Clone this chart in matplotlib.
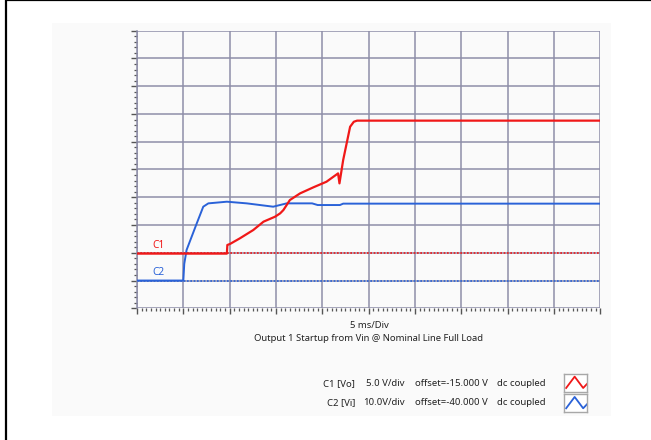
import numpy as np
import matplotlib.pyplot as plt
from matplotlib.patches import Rectangle
from matplotlib.ticker import MultipleLocator

# scope traces, in screen divisions (x: 5 ms/div, y: per-channel V/div)
c1_t = [0, 1.94, 1.95, 2.01, 2.22, 2.51, 2.73, 2.98, 3.09, 3.16, 3.30, 3.52,
        3.81, 4.09, 4.34, 4.37, 4.45, 4.60, 4.68, 4.75, 10]
c1_v = [1.97, 1.97, 2.28, 2.32, 2.52, 2.82, 3.12, 3.30, 3.42, 3.54, 3.90, 4.14,
        4.36, 4.56, 4.86, 4.50, 5.34, 6.54, 6.72, 6.76, 6.76]

c2_t = [0, 1.00, 1.02, 1.07, 1.29, 1.43, 1.54, 1.94, 2.37, 2.94, 3.23, 3.78,
        3.90, 4.38, 4.45, 10]
c2_v = [1.0, 1.0, 1.6, 2.10, 3.06, 3.66, 3.78, 3.84, 3.78, 3.66, 3.78, 3.78,
        3.72, 3.72, 3.77, 3.77]

c1_ground = 2.0
c2_ground = 1.0

channels = ["C1 [Vo]", "C2 [Vi]"]
scales = ["5.0 V/div", "10.0V/div"]
offsets = ["offset=-15.000 V", "offset=-40.000 V"]
coupling = ["dc coupled", "dc coupled"]

RED = "#f01818"
BLUE = "#2a62d8"
GRID = "#8e8ea8"
W, H = 651, 440

plt.rcParams["font.family"] = ["Noto Sans", "DejaVu Sans"]

fig = plt.figure(figsize=(W / 100, H / 100), dpi=100)


def fx(px):
    return px / W


def fy(py):
    return 1 - py / H


# outer frame and grey panel (kept behind the axes)
fig.patches.append(Rectangle((fx(6), fy(460)), fx(660), 460 / H, transform=fig.transFigure,
                             fill=False, edgecolor="black", linewidth=1.6, zorder=-2))
fig.patches.append(Rectangle((fx(52), fy(415.5)), fx(611 - 52), (415.5 - 22.7) / H,
                             transform=fig.transFigure, facecolor="#fafafa",
                             edgecolor="none", zorder=-2))

ax = fig.add_axes([fx(137), fy(308.3), fx(463.3), 277.6 / H])
ax.set_facecolor("#fafafa")
ax.set_xlim(0, 10)
ax.set_ylim(0, 10)
ax.xaxis.set_major_locator(MultipleLocator(1))
ax.xaxis.set_minor_locator(MultipleLocator(0.1))
ax.yaxis.set_major_locator(MultipleLocator(1))
ax.yaxis.set_minor_locator(MultipleLocator(0.2))
ax.tick_params(which="both", direction="out", colors="#555555", labelleft=False,
               labelbottom=False, pad=1)
ax.tick_params(which="major", length=4, width=1)
ax.tick_params(which="minor", length=2.5, width=0.9)
ax.grid(True, which="major", color=GRID, linewidth=1.1)
ax.get_xgridlines()[-1].set_visible(False)
for side in ["right", "top", "bottom"]:
    ax.spines[side].set_visible(False)
ax.spines["left"].set_color(GRID)
ax.spines["left"].set_linewidth(1.1)

# ground reference markers
ax.axhline(c1_ground, color=RED, linestyle=(0, (1, 1)), linewidth=1.2, zorder=2)
ax.axhline(c2_ground, color=BLUE, linestyle=(0, (1, 1)), linewidth=1.2, zorder=2)

ax.plot(c2_t, c2_v, color=BLUE, linewidth=1.4, zorder=3)
ax.plot(c1_t, c1_v, color=RED, linewidth=1.6, zorder=4)

ax.text(0.34, c1_ground + 0.08, "C1", color=RED, fontsize=7.3, va="bottom", ha="left")
ax.text(0.34, c2_ground + 0.08, "C2", color=BLUE, fontsize=7.3, va="bottom", ha="left")

fig.text(fx(369), fy(325), "5 ms/Div", fontsize=6.8, ha="center", va="center", color="#222222")
fig.text(fx(368), fy(338.5), "Output 1 Startup from Vin @ Nominal Line Full Load",
         fontsize=6.8, ha="center", va="center", color="#222222")

rows_y = [383.3, 402.7]
colors = [RED, BLUE]
for i in range(2):
    y = fy(rows_y[i])
    fig.text(fx(355), y, channels[i], fontsize=6.9, ha="right", va="center", color="#222222")
    fig.text(fx(405), y, scales[i], fontsize=6.9, ha="right", va="center", color="#222222")
    fig.text(fx(415), y, offsets[i], fontsize=6.9, ha="left", va="center", color="#222222")
    fig.text(fx(497), y, coupling[i], fontsize=6.9, ha="left", va="center", color="#222222")
    top = 374 + 20.3 * i
    iax = fig.add_axes([fx(564.3), fy(top + 17.5), fx(23), 17.5 / H])
    iax.set_xlim(0, 1)
    iax.set_ylim(0, 1)
    iax.set_xticks([])
    iax.set_yticks([])
    iax.set_facecolor("white")
    for s in iax.spines.values():
        s.set_color("#a8a8a8")
        s.set_linewidth(1.0)
    iax.plot([0.08, 0.45, 0.82, 1.0], [0.2, 0.85, 0.2, 0.45], color=colors[i], linewidth=1.3)

fig.savefig("out.png", dpi=100)
